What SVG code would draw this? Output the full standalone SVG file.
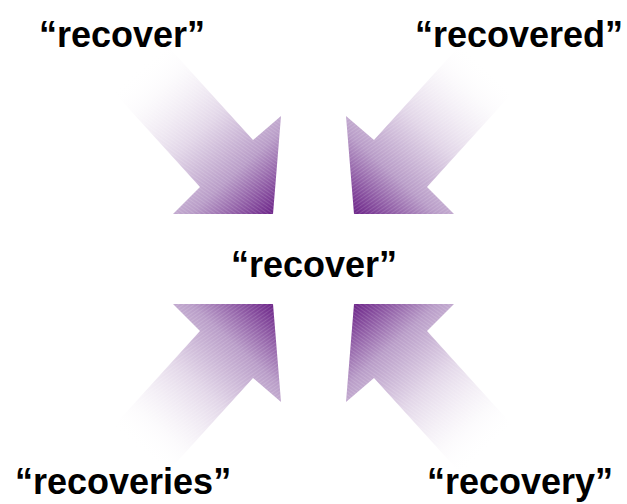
<svg xmlns="http://www.w3.org/2000/svg" xmlns:xlink="http://www.w3.org/1999/xlink" width="627" height="504" viewBox="0 0 627 504">
  <style>
    .lbl { font-family: "Liberation Sans", Arial, sans-serif; font-weight: bold; font-size: 36px; fill: #000; }
  </style>
  <defs>
    <linearGradient id="fade" gradientUnits="userSpaceOnUse" x1="139" y1="67" x2="273" y2="214">
      <stop offset="0" stop-color="#ffffff" stop-opacity="0"/>
      <stop offset="0.15" stop-color="#faf8fb" stop-opacity="0.6"/>
      <stop offset="0.45" stop-color="#e2d6e8"/>
      <stop offset="0.72" stop-color="#b99dc8"/>
      <stop offset="1" stop-color="#6c2488"/>
    </linearGradient>
    <pattern id="hatch" patternUnits="userSpaceOnUse" width="3" height="3" patternTransform="rotate(35)">
      <line x1="0" y1="0.5" x2="3" y2="0.5" stroke="#ffffff" stroke-width="0.8" stroke-opacity="0.18"/>
    </pattern>
    <g id="arrow">
      <polygon points="165.6,43.7 253,140 281,116 273,214 173,214 200,187 112.6,90.7" fill="url(#fade)"/>
      <polygon points="165.6,43.7 253,140 281,116 273,214 173,214 200,187 112.6,90.7" fill="url(#hatch)"/>
    </g>
  </defs>
  <g id="connectors">
    <use xlink:href="#arrow" href="#arrow"/>
    <use xlink:href="#arrow" href="#arrow" transform="translate(627,0) scale(-1,1)"/>
    <use xlink:href="#arrow" href="#arrow" transform="translate(0,518) scale(1,-1)"/>
    <use xlink:href="#arrow" href="#arrow" transform="translate(627,518) scale(-1,-1)"/>
  </g>
  <g id="node-top-left"><text class="lbl" x="39" y="47">“recover”</text></g>
  <g id="node-top-right"><text class="lbl" x="415" y="47">“recovered”</text></g>
  <g id="node-center"><text class="lbl" x="314" y="277" text-anchor="middle">“recover”</text></g>
  <g id="node-bottom-left"><text class="lbl" x="15" y="494">“recoveries”</text></g>
  <g id="node-bottom-right"><text class="lbl" x="427" y="494">“recovery”</text></g>
</svg>
